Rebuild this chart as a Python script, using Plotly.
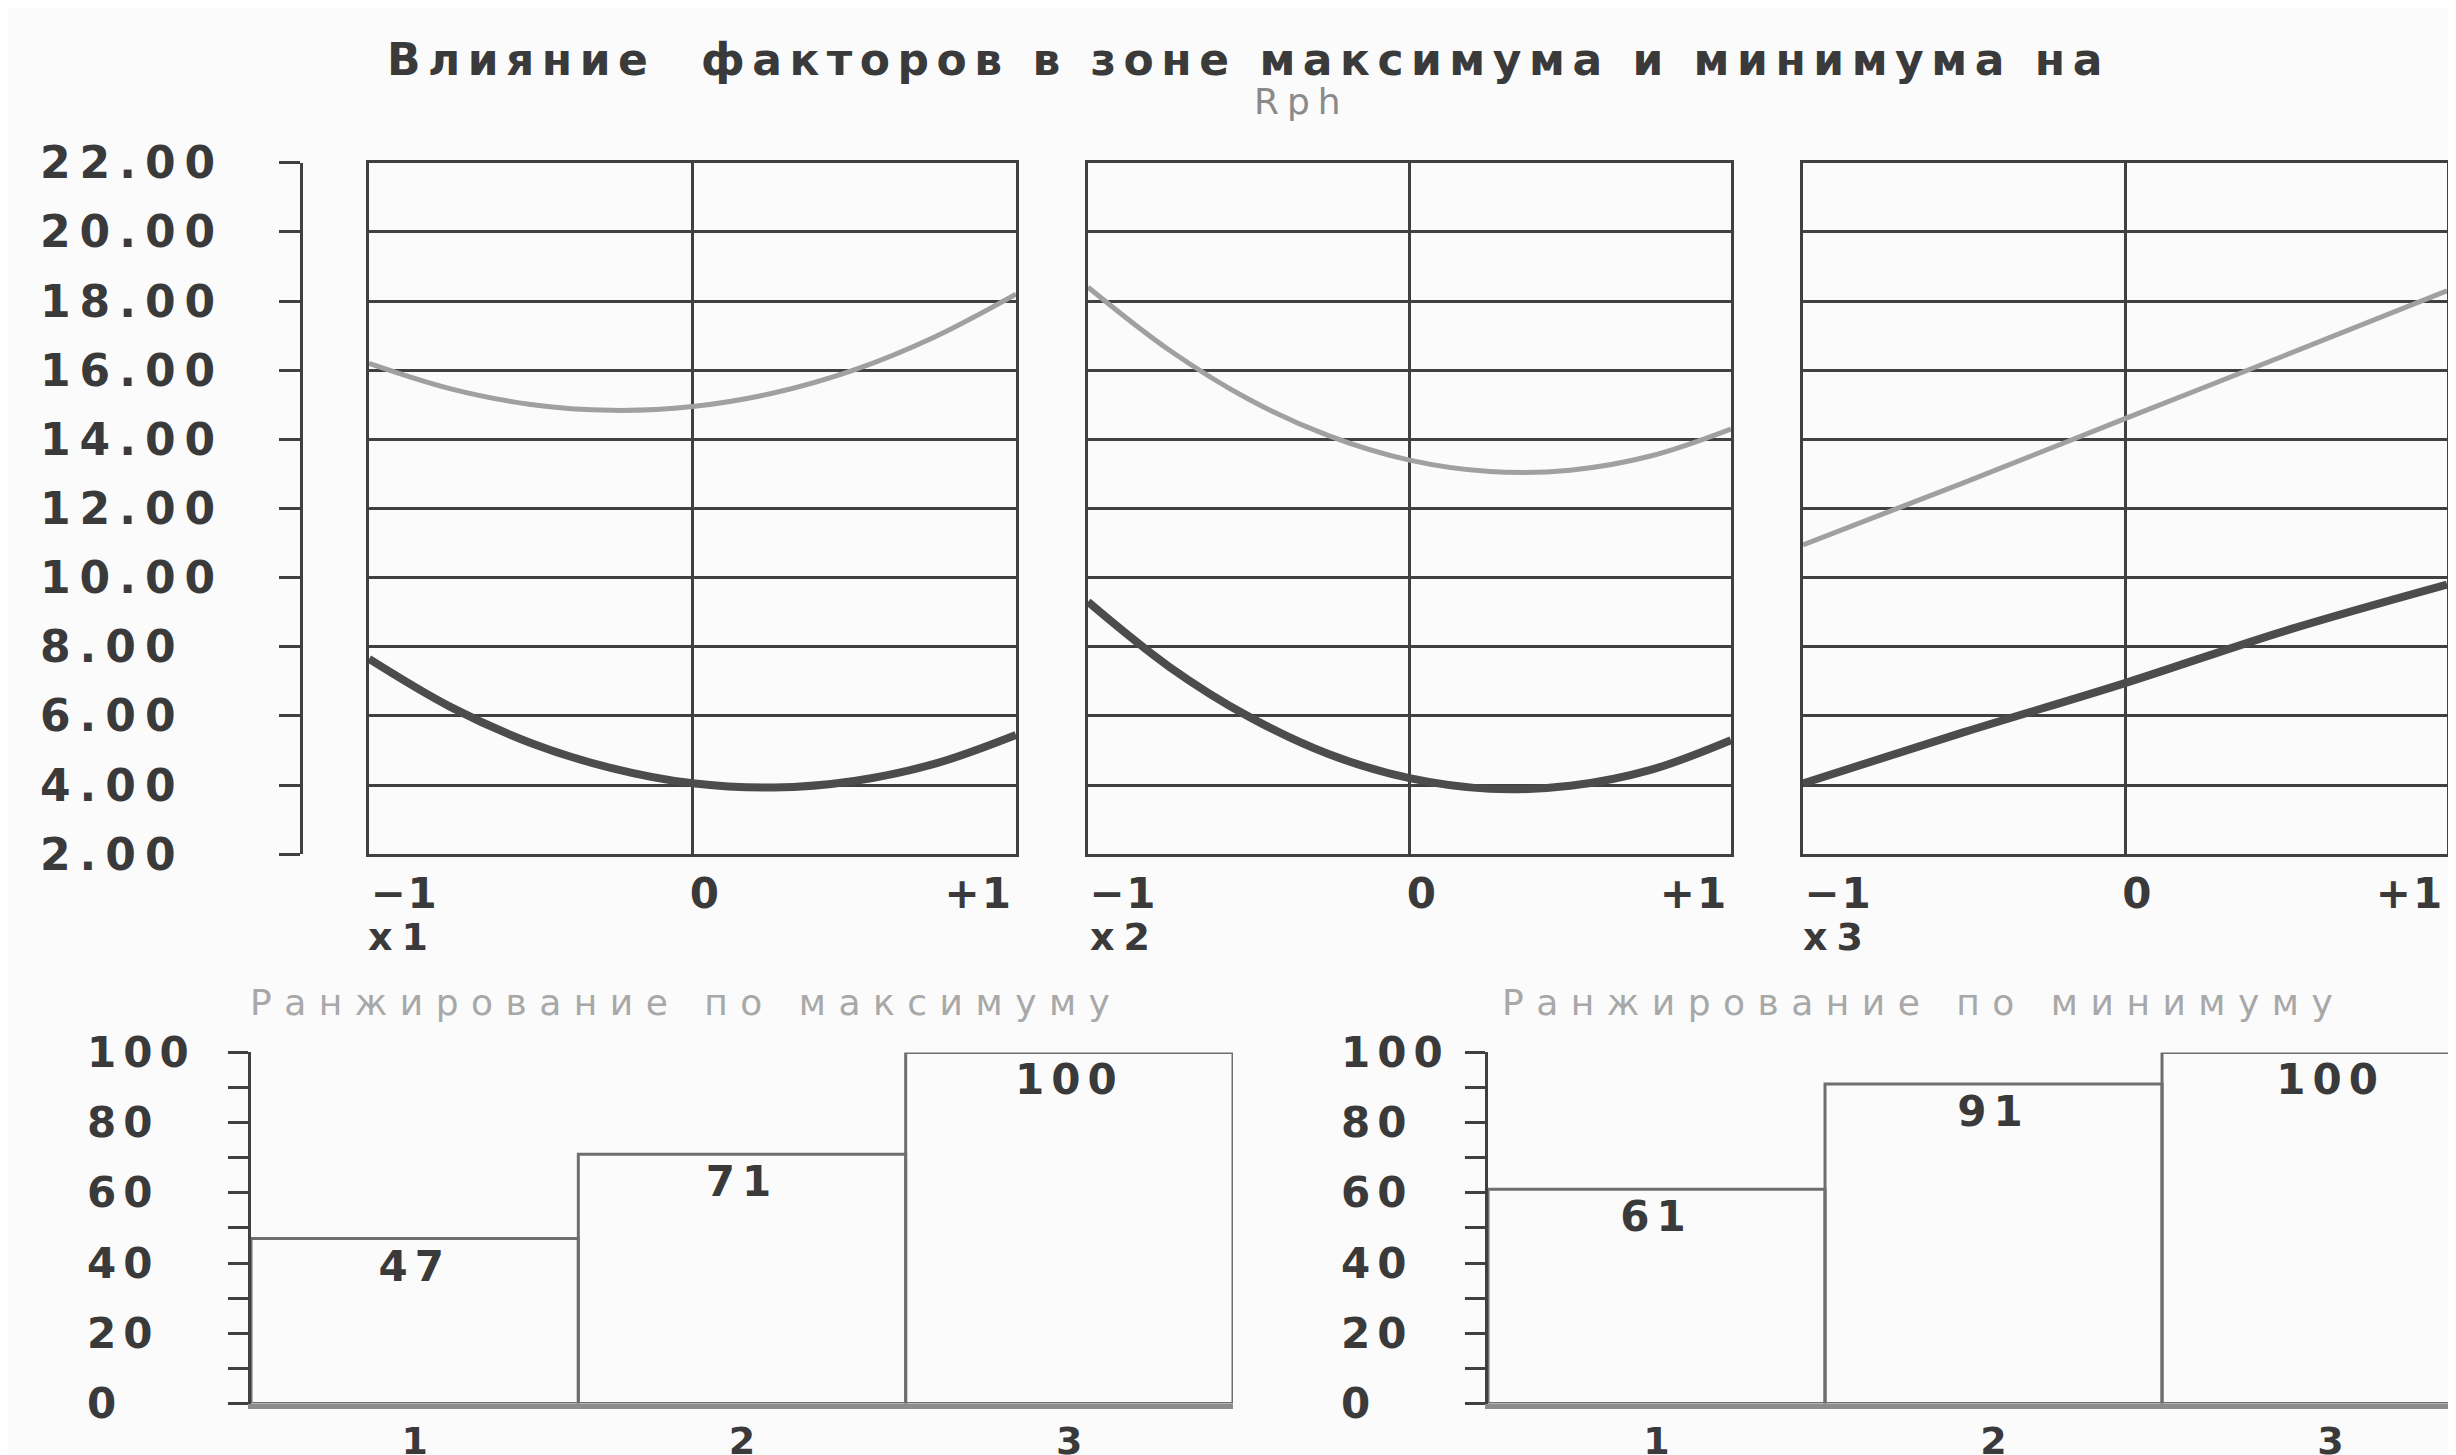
import plotly.graph_objects as go

W, H = 2456, 1455

# ---------------- data ----------------
title_line1 = "Влияние  факторов в зоне максимума и минимума на"
title_line2 = "Rph"

factor_names = ["x1", "x2", "x3"]

curve_x = [-1, -0.75, -0.5, -0.25, 0, 0.25, 0.5, 0.75, 1]
x1_max = [16.2, 15.47, 15.01, 14.84, 14.95, 15.34, 16.01, 16.97, 18.2]
x1_min = [7.65, 6.27, 5.22, 4.49, 4.05, 3.93, 4.12, 4.62, 5.45]
x2_max = [18.4, 16.6, 15.16, 14.1, 13.4, 13.07, 13.11, 13.52, 14.3]
x2_min = [9.3, 7.44, 5.98, 4.89, 4.2, 3.89, 3.98, 4.44, 5.3]

line_x = [-1, -0.5, 0, 0.5, 1]
x3_max = [10.95, 12.75, 14.6, 16.44, 18.3]
x3_min = [4.05, 5.53, 6.95, 8.47, 9.8]

y_tick_vals = [2, 4, 6, 8, 10, 12, 14, 16, 18, 20, 22]
y_tick_text = ["2.00", "4.00", "6.00", "8.00", "10.00", "12.00",
               "14.00", "16.00", "18.00", "20.00", "22.00"]
x_tick_text = ["−1", "0", "+1"]

rank_title_max = "Ранжирование по максимуму"
rank_title_min = "Ранжирование по минимуму"
rank_categories = ["1", "2", "3"]
rank_max = [47, 71, 100]
rank_min = [61, 91, 100]
rank_tick_vals = [0, 20, 40, 60, 80, 100]
rank_tick_text = ["0", "20", "40", "60", "80", "100"]

# ---------------- style ----------------
FONT_B = "DejaVu Sans"
DARK = "#3a3a3a"
GRID = "#404040"
LIGHT = "#a0a0a0"
LOW = "#4c4c4c"


def px_x(px):
    return px / W


def px_y(py):
    return 1 - py / H


def sp(text, ls):
    return f'<span style="letter-spacing:{ls}px">{text}</span>'


top_y_dom = [px_y(858), px_y(157)]
panel_x_doms = [[px_x(361), px_x(1008)],
                [px_x(1080), px_x(1723)],
                [px_x(1795), px_x(2439)]]

fig = go.Figure()

panels = [(curve_x, x1_max, x1_min), (curve_x, x2_max, x2_min), (line_x, x3_max, x3_min)]
for i, (xs, ymax, ymin) in enumerate(panels):
    xa = "x" if i == 0 else f"x{i+1}"
    ya = "y" if i == 0 else f"y{i+1}"
    fig.add_trace(go.Scatter(x=xs, y=ymax, mode="lines", line=dict(color=LIGHT, width=5, shape="spline"),
                             xaxis=xa, yaxis=ya, hoverinfo="skip"))
    fig.add_trace(go.Scatter(x=xs, y=ymin, mode="lines", line=dict(color=LOW, width=8, shape="spline"),
                             xaxis=xa, yaxis=ya, hoverinfo="skip"))

# invisible trace to carry the free-standing value axis
fig.add_trace(go.Scatter(x=[0], y=[y_tick_vals[0]], mode="markers", marker=dict(opacity=0),
                         xaxis="x", yaxis="y4", hoverinfo="skip"))

# rank bar charts
bar_common = dict(width=1, marker=dict(color="rgba(255,255,255,0)", line=dict(color="#6e6e6e", width=3)),
                  textposition="inside", insidetextanchor="end", constraintext="none",
                  insidetextfont=dict(family=FONT_B, size=42, color=DARK, weight="bold"),
                  hoverinfo="skip", cliponaxis=True)
fig.add_trace(go.Bar(x=rank_categories, y=rank_max, text=[sp(str(v), 7) for v in rank_max],
                     xaxis="x5", yaxis="y5", **bar_common))
fig.add_trace(go.Bar(x=rank_categories, y=rank_min, text=[sp(str(v), 7) for v in rank_min],
                     xaxis="x6", yaxis="y6", **bar_common))

layout = dict(width=W, height=H, margin=dict(l=0, r=0, t=0, b=0),
              paper_bgcolor="#fbfbfb", plot_bgcolor="rgba(0,0,0,0)", showlegend=False,
              font=dict(family=FONT_B, color=DARK))

tick_font = dict(family=FONT_B, size=42, color=DARK, weight="bold")
for i in range(3):
    xk = "xaxis" if i == 0 else f"xaxis{i+1}"
    yk = "yaxis" if i == 0 else f"yaxis{i+1}"
    ya = "y" if i == 0 else f"y{i+1}"
    xa = "x" if i == 0 else f"x{i+1}"
    layout[xk] = dict(domain=panel_x_doms[i], anchor=ya, range=[-1, 1], showgrid=False,
                      zeroline=True, zerolinecolor=GRID, zerolinewidth=3,
                      showline=True, mirror=True, linecolor=GRID, linewidth=3,
                      tickmode="array", tickvals=[-0.89, 0.04, 0.885],
                      ticktext=[sp(t, 2) for t in x_tick_text],
                      ticks="", tickfont=tick_font, ticklabelstandoff=0, fixedrange=True)
    layout[yk] = dict(domain=top_y_dom, anchor=xa, range=[2, 22], showgrid=True,
                      gridcolor=GRID, gridwidth=3, tickmode="array", tickvals=y_tick_vals,
                      showticklabels=False, ticks="", zeroline=False,
                      showline=True, mirror=True, linecolor=GRID, linewidth=3, fixedrange=True)

layout["yaxis4"] = dict(overlaying="y", anchor="free", position=px_x(293), side="left",
                        range=[2, 22], showgrid=False, zeroline=False, showline=True,
                        linecolor=GRID, linewidth=3, ticks="outside", ticklen=21, tickwidth=3,
                        tickcolor=GRID, tickmode="array", tickvals=y_tick_vals,
                        showticklabels=False)

bar_x_doms = [[px_x(243), px_x(1225)], [px_x(1480), 1.0]]
bar_x_ranges = [[-0.5, 2.5], [-0.5, 2.396]]
for j, (xdom, xr) in enumerate(zip(bar_x_doms, bar_x_ranges)):
    n = 5 + j
    layout[f"xaxis{n}"] = dict(domain=xdom, anchor=f"y{n}", range=xr, type="category",
                               showgrid=False, zeroline=False, showline=True,
                               linecolor="#8c8c8c", linewidth=5, ticks="",
                               tickfont=dict(family=FONT_B, size=38, color=DARK, weight="bold"),
                               ticklabelstandoff=0, fixedrange=True)
    layout[f"yaxis{n}"] = dict(domain=[px_y(1415), px_y(1059)], anchor=f"x{n}", range=[0, 100],
                               showgrid=False, zeroline=False, showline=True, linecolor=GRID,
                               linewidth=3, ticks="outside", ticklen=20, tickwidth=3,
                               tickcolor=GRID, dtick=10, tick0=0, showticklabels=False,
                               fixedrange=True)

label_font = dict(family=FONT_B, size=44, color=DARK, weight="bold")
ann = []
ann.append(dict(text=sp(title_line1, 7.5), x=px_x(1241), y=px_y(52), xref="paper", yref="paper",
                xanchor="center", yanchor="middle", showarrow=False,
                font=dict(family=FONT_B, size=44, color=DARK, weight="bold")))
ann.append(dict(text=sp(title_line2, 8), x=px_x(1293), y=px_y(95), xref="paper", yref="paper",
                xanchor="center", yanchor="middle", showarrow=False,
                font=dict(family=FONT_B, size=36, color="#8a8a8a")))
for v, t in zip(y_tick_vals, y_tick_text):
    ann.append(dict(text=sp(t, 9), x=px_x(30), xanchor="left", y=v, yref="y4", xref="paper",
                    yanchor="middle", showarrow=False, font=label_font))
for name, px0 in zip(factor_names, [358, 1080, 1793]):
    ann.append(dict(text=sp(name, 9), x=px_x(px0), xanchor="left", y=px_y(942), yref="paper",
                    xref="paper", yanchor="middle", showarrow=False,
                    font=dict(family=FONT_B, size=38, color=DARK, weight="bold")))
for n, xl in [(5, 77), (6, 1331)]:
    for v, t in zip(rank_tick_vals, rank_tick_text):
        ann.append(dict(text=sp(t, 7), x=px_x(xl), xanchor="left", y=v, yref=f"y{n}", xref="paper",
                        yanchor="middle", showarrow=False,
                        font=dict(family=FONT_B, size=42, color=DARK, weight="bold")))
for t, cx in [(rank_title_max, 678), (rank_title_min, 1915)]:
    ann.append(dict(text=sp(t, 12.5), x=px_x(cx), y=px_y(1008), xref="paper", yref="paper",
                    xanchor="center", yanchor="middle", showarrow=False,
                    font=dict(family=FONT_B, size=36, color="#a8a8a8")))
layout["annotations"] = ann

fig.update_layout(**layout)
fig.write_html("out.html")
